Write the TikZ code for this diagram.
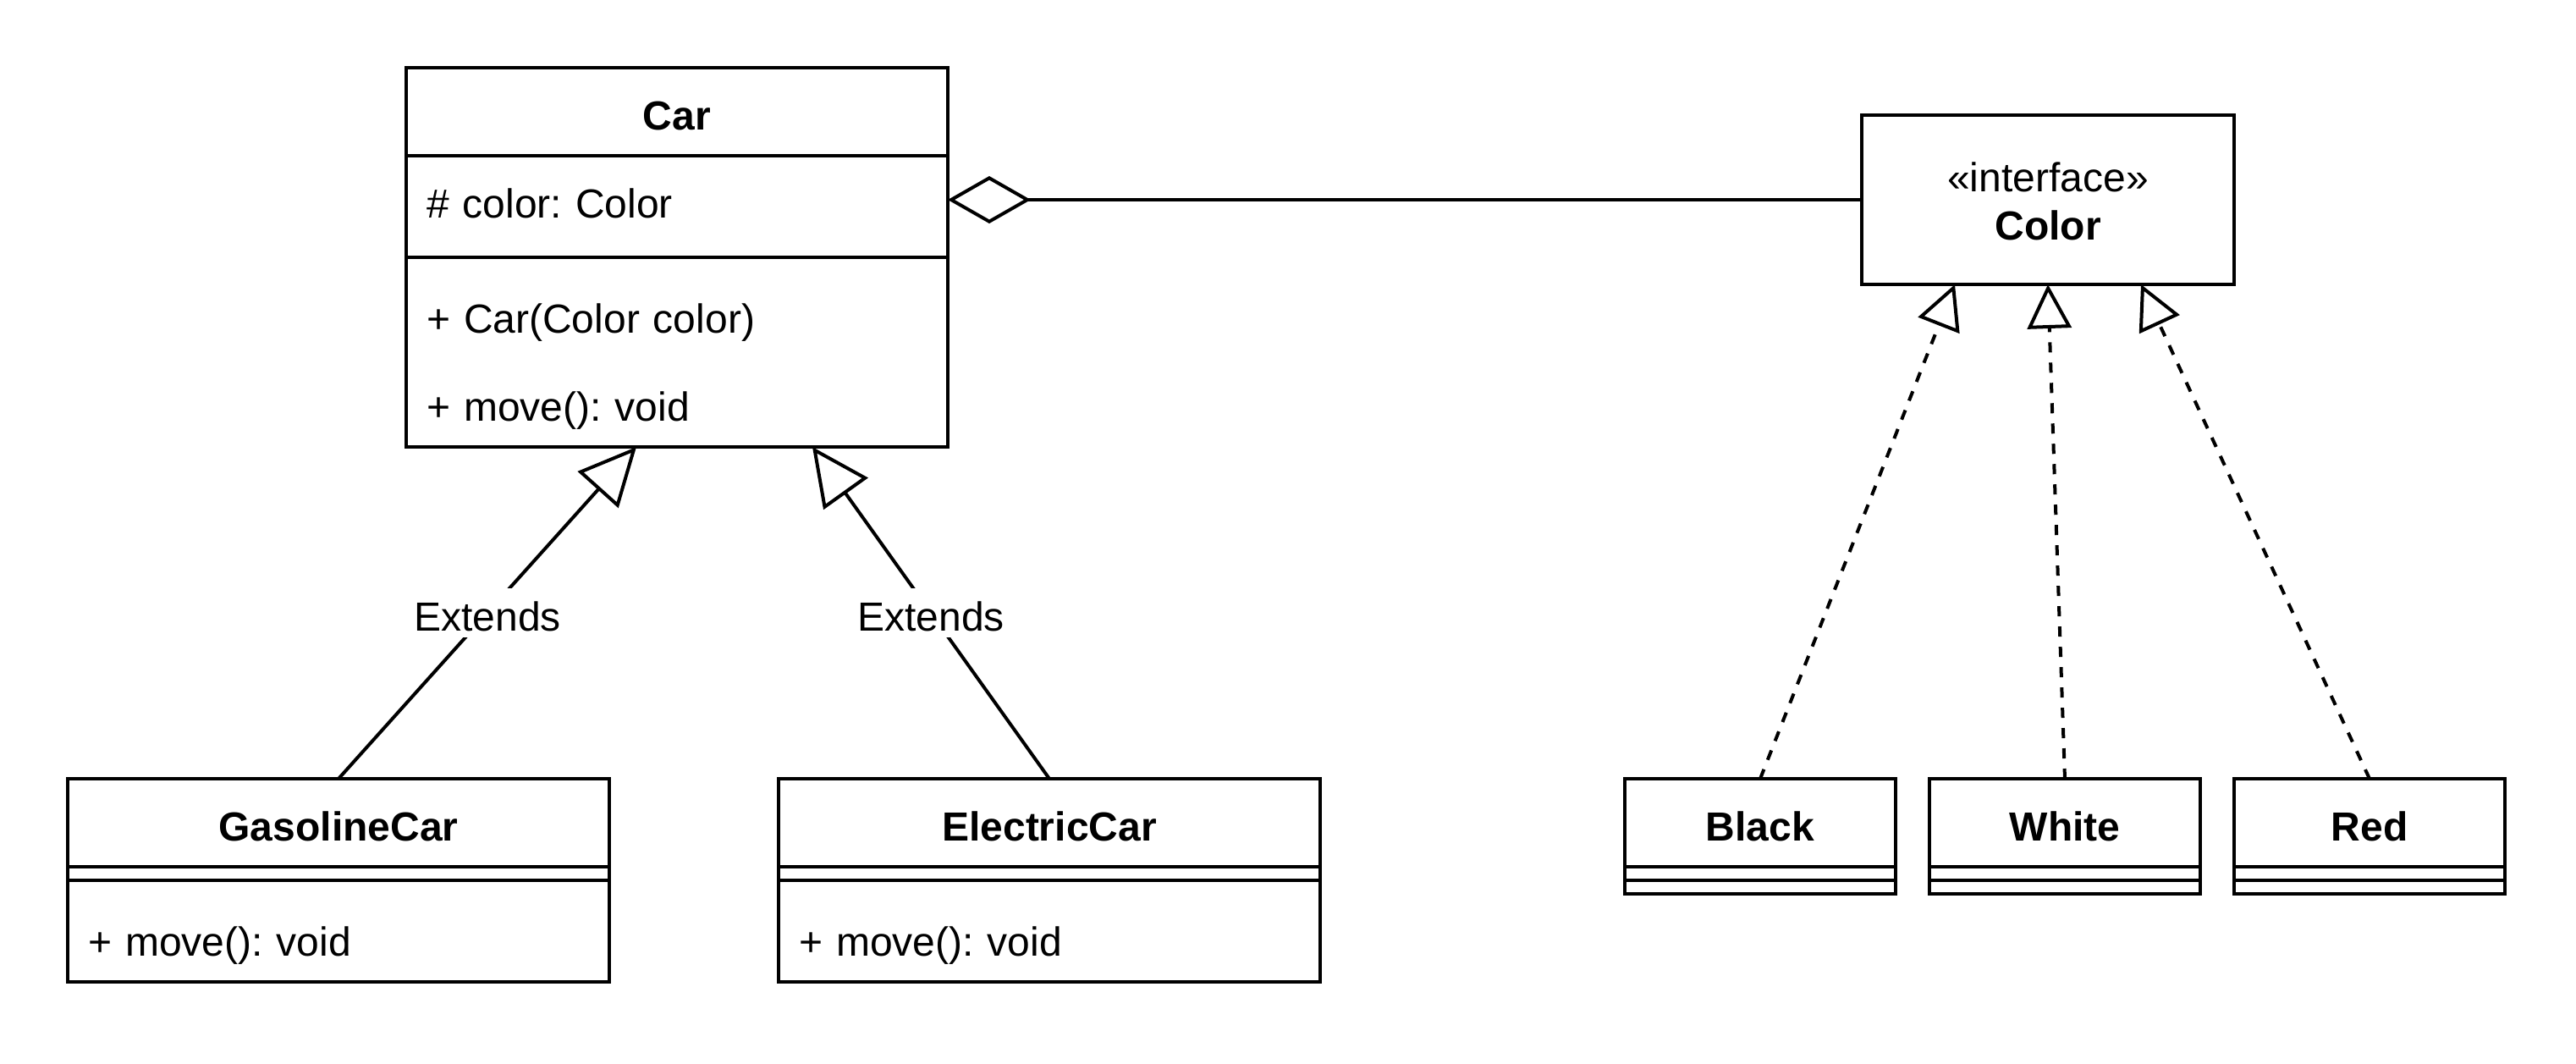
\documentclass[tikz,border=0pt]{standalone}
\usepackage{fontspec}
\setmainfont{Liberation Sans}
\usepackage{tikz}
\usetikzlibrary{
	arrows.meta,
	calc,
	positioning,
	fit
}
\frenchspacing
\tikzset{
	box/.style={inner sep=0pt, outer sep=0pt, text height=10.6pt, text depth=0pt},
	title/.style={box, minimum height=26pt, font=\fontsize{12pt}{14.4pt}\selectfont\bfseries},
	member/.style={box, minimum height=26pt, text width=148pt, align=left, inner xsep=6pt},
	gap/.style={inner sep=0pt, outer sep=0pt, minimum height=8pt},
	frame/.style={draw, inner sep=0pt, outer sep=0pt},
	extends/.style={-{Triangle[open,length=17pt,width=16pt]}},
	realizes/.style={dashed, -{Triangle[open,length=13pt,width=13pt]}},
	aggregation/.style={{Diamond[open,length=24.5pt,width=14pt]}-},
	edgelabel/.style={fill=white, inner sep=0pt, inner xsep=1pt, minimum height=14.4pt, text height=10.6pt, text depth=0pt}
}

\begin{document}
\begin{tikzpicture}[x=1pt,y=-1pt,line width=1pt,font=\fontsize{12pt}{14.4pt}\selectfont]
	\useasboundingbox (0,0) rectangle (761,314);
	
	% Car 类
	\node[title, minimum width=160pt] (car) at (200,33) {Car};
	\node[member, below=0pt of car] (carattr) {\# color: Color};
	\node[gap, minimum width=160pt, below=0pt of carattr] (carsep) {};
	\node[member, below=0pt of carsep] (carm1) {+ Car(Color color)};
	\node[member, below=0pt of carm1] (carm2) {+ move(): void};
	\node[frame, fit=(car)(carm2)] (carbox) {};
	\draw (car.south west) -- (car.south east);
	\draw (carsep.west) -- (carsep.east);
	
	% 接口 Color
	\node[frame, minimum width=110pt, minimum height=50pt] (color) at (605,59) {};
	\node[align=center, inner sep=0pt] (colortext) at ([yshift=-0.5pt]color.center) {«interface»\\\textbf{Color}};
	
	% 子类
	\node[title, minimum width=160pt] (gas) at (100,243) {GasolineCar};
	\node[gap, minimum width=160pt, below=0pt of gas] (gassep) {};
	\node[member, below=0pt of gassep] (gasm1) {+ move(): void};
	\node[frame, fit=(gas)(gasm1)] (gasbox) {};
	\draw (gas.south west) -- (gas.south east);
	\draw (gassep.west) -- (gassep.east);
	
	\node[title, minimum width=160pt] (elec) at (310,243) {ElectricCar};
	\node[gap, minimum width=160pt, below=0pt of elec] (elecsep) {};
	\node[member, below=0pt of elecsep] (elecm1) {+ move(): void};
	\node[frame, fit=(elec)(elecm1)] (elecbox) {};
	\draw (elec.south west) -- (elec.south east);
	\draw (elecsep.west) -- (elecsep.east);
	
	% 颜色实现类
	\node[title, minimum width=80pt] (black) at (520,243) {Black};
	\node[gap, minimum width=80pt, below=0pt of black] (blacksep) {};
	\node[frame, fit=(black)(blacksep)] (blackbox) {};
	\draw (black.south west) -- (black.south east);
	\draw (blacksep.west) -- (blacksep.east);
	
	\node[title, minimum width=80pt] (white) at (610,243) {White};
	\node[gap, minimum width=80pt, below=0pt of white] (whitesep) {};
	\node[frame, fit=(white)(whitesep)] (whitebox) {};
	\draw (white.south west) -- (white.south east);
	\draw (whitesep.west) -- (whitesep.east);
	
	\node[title, minimum width=80pt] (red) at (700,243) {Red};
	\node[gap, minimum width=80pt, below=0pt of red] (redsep) {};
	\node[frame, fit=(red)(redsep)] (redbox) {};
	\draw (red.south west) -- (red.south east);
	\draw (redsep.west) -- (redsep.east);
	
	% 聚合
	\draw[aggregation] (carattr.east) -- (color.west);
	
	% 继承
	\draw[extends] (gasbox.north) -- node[edgelabel] {Extends} ([xshift=68pt]carbox.south west);
	\draw[extends] (elecbox.north) -- node[edgelabel] {Extends} ([xshift=120pt]carbox.south west);
	
	% 实现
	\draw[realizes] (blackbox.north) -- ($(color.south west)!0.25!(color.south east)$);
	\draw[realizes] (whitebox.north) -- (color.south);
	\draw[realizes] (redbox.north) -- ($(color.south west)!0.75!(color.south east)$);
\end{tikzpicture}
\end{document}
